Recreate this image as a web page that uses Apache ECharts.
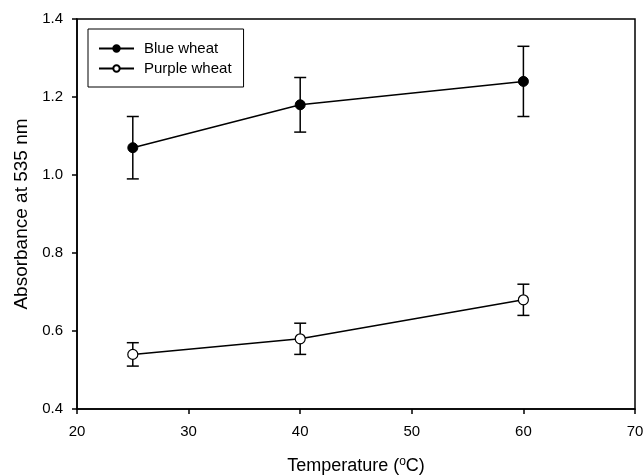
<!DOCTYPE html>
<html>
<head>
<meta charset="utf-8">
<script src="https://cdn.jsdelivr.net/npm/echarts@6/dist/echarts.min.js"></script>
<style>
html, body { margin: 0; padding: 0; background: #fff; }
#chart { width: 644px; height: 476px; }
</style>
</head>
<body>
<div id="chart"></div>
<script>
var temps = [25, 40, 60];
var blueMean = [1.07, 1.18, 1.24];
var blueErr = [0.08, 0.07, 0.09];
var purpleMean = [0.54, 0.58, 0.68];
var purpleErr = [0.03, 0.04, 0.04];

var chart = echarts.init(document.getElementById('chart'));
var font = 'Liberation Sans, Arial, sans-serif';

function pairs(xs, ys) {
	var out = [];
	for (var i = 0; i < xs.length; i++) {
		out.push([xs[i], ys[i]]);
	}
	return out;
}

function errData(xs, ys, es) {
	var out = [];
	for (var i = 0; i < xs.length; i++) {
		out.push([xs[i], ys[i] - es[i], ys[i] + es[i]]);
	}
	return out;
}

// vertical bar + two caps
function renderErr(params, api) {
	var lo = api.coord([api.value(0), api.value(1)]);
	var hi = api.coord([api.value(0), api.value(2)]);
	var w = 6;
	var st = { stroke: '#000', lineWidth: 1.5 };
	return {
		type: 'group',
		children: [
			{ type: 'line', shape: { x1: lo[0], y1: lo[1], x2: hi[0], y2: hi[1] }, style: st },
			{ type: 'line', shape: { x1: lo[0] - w, y1: lo[1], x2: lo[0] + w, y2: lo[1] }, style: st },
			{ type: 'line', shape: { x1: hi[0] - w, y1: hi[1], x2: hi[0] + w, y2: hi[1] }, style: st }
		]
	};
}

var option = {
	animation: false,
	backgroundColor: '#fff',
	textStyle: { fontFamily: font },
	grid: {
		left: 77,
		right: 9,
		top: 19,
		bottom: 67,
		outerBoundsMode: 'none',
		containLabel: false,
		show: true,
		borderColor: '#000',
		borderWidth: 1.5
	},
	legend: {
		left: 88,
		top: 29,
		orient: 'vertical',
		backgroundColor: '#fff',
		borderColor: '#000',
		borderWidth: 1,
		borderRadius: 0,
		padding: [12, 12, 11, 10],
		itemGap: 5,
		itemWidth: 35,
		itemHeight: 8,
		textStyle: { fontFamily: font, fontSize: 15, color: '#000', padding: [0, 0, 0, 5] },
		data: ['Blue wheat', 'Purple wheat']
	},
	xAxis: {
		type: 'value',
		min: 20,
		max: 70,
		interval: 10,
		name: 'Temperature ({sup|o}C)',
		nameLocation: 'middle',
		nameGap: 47,
		nameTextStyle: {
			fontFamily: font,
			fontSize: 18,
			color: '#000',
			rich: {
				sup: { fontSize: 12, color: '#000', fontFamily: font, padding: [0, 0, 9, 0] }
			}
		},
		axisLine: { lineStyle: { color: '#000', width: 1.5 } },
		axisTick: { inside: false, length: 5, lineStyle: { color: '#000', width: 1.5 } },
		axisLabel: { margin: 15, fontFamily: font, fontSize: 15, color: '#000' },
		splitLine: { show: false }
	},
	yAxis: {
		type: 'value',
		min: 0.4,
		max: 1.4,
		interval: 0.2,
		name: 'Absorbance at 535 nm',
		nameLocation: 'middle',
		nameGap: 45,
		nameTextStyle: { fontFamily: font, fontSize: 19, color: '#000' },
		axisLine: { show: true, lineStyle: { color: '#000', width: 1.5 } },
		axisTick: { show: true, inside: false, length: 5, lineStyle: { color: '#000', width: 1.5 } },
		axisLabel: {
			margin: 14,
			fontFamily: font,
			fontSize: 15,
			color: '#000',
			formatter: function(v) { return v.toFixed(1); }
		},
		splitLine: { show: false }
	},
	series: [{
			name: 'Blue wheat',
			type: 'line',
			data: pairs(temps, blueMean),
			symbol: 'circle',
			symbolSize: 10,
			z: 3,
			lineStyle: { color: '#000', width: 1.5 },
			itemStyle: { color: '#000', borderColor: '#000', borderWidth: 1 }
		},
		{
			name: 'Purple wheat',
			type: 'line',
			data: pairs(temps, purpleMean),
			symbol: 'circle',
			symbolSize: 10,
			z: 3,
			lineStyle: { color: '#000', width: 1.5 },
			itemStyle: { color: '#fff', borderColor: '#000', borderWidth: 1.2 }
		},
		{
			type: 'custom',
			renderItem: renderErr,
			data: errData(temps, blueMean, blueErr),
			z: 2,
			silent: true
		},
		{
			type: 'custom',
			renderItem: renderErr,
			data: errData(temps, purpleMean, purpleErr),
			z: 2,
			silent: true
		}
	]
};

chart.setOption(option);
</script>
</body>
</html>
